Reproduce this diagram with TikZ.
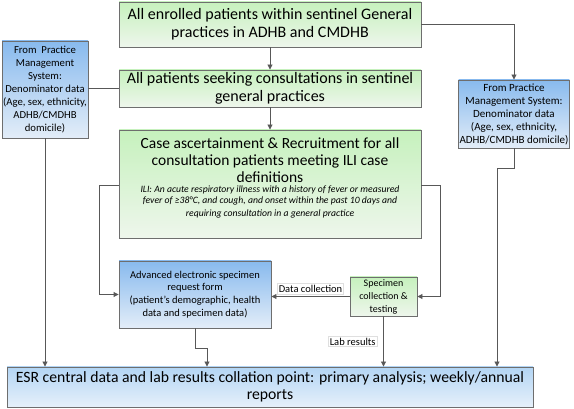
\documentclass[tikz,border=0pt]{standalone}
\usepackage{fontspec}
\setmainfont{Carlito}
\usetikzlibrary{arrows.meta,calc}
\definecolor{gtop}{HTML}{C6F1BD}
\definecolor{gbot}{HTML}{EEF6EC}
\definecolor{btop}{HTML}{88BAEE}
\definecolor{bbot}{HTML}{E3EDF8}
\definecolor{etop}{HTML}{B3D5F4}
\definecolor{ebot}{HTML}{E6F0FA}
\definecolor{edgec}{HTML}{6E6E6E}
\definecolor{lnc}{HTML}{585858}
\tikzset{
  box/.style={draw=edgec, line width=0.9pt, align=center, inner sep=1pt},
  greenbox/.style={box, top color=gtop, bottom color=gbot},
  bluebox/.style={box, top color=btop, bottom color=bbot},
  conn/.style={draw=lnc, line width=0.9pt},
  arr/.style={conn, -{Triangle[length=5pt,width=5pt]}},
  lbl/.style={fill=white, draw=gray!25, inner sep=1.5pt, font=\fontsize{10.5}{12}\selectfont},
  bigf/.style={font=\fontsize{16}{18}\selectfont},
}
\begin{document}
\begin{tikzpicture}[x=1pt,y=-1pt]
\useasboundingbox (0,0) rectangle (574,409);
% boxes
\node[greenbox, bigf, minimum width=302pt, minimum height=45pt] (A) at (270,24.5)
  {All enrolled patients within sentinel General\\practices in ADHB and CMDHB};
\node[greenbox, bigf, minimum width=302pt, minimum height=37pt] (B) at (270,88.5)
  {All patients seeking consultations in sentinel\\general practices};
\node[bluebox, font=\fontsize{10.7}{12.9}\selectfont, minimum width=86pt, minimum height=97pt] (L) at (45,89.5)
  {From\ \ Practice\\Management\\System:\\Denominator data\\(Age, sex, ethnicity,\\ADHB/CMDHB\\domicile)};
\node[bluebox, font=\fontsize{11}{13}\selectfont, minimum width=110pt, minimum height=68pt] (R) at (514,114)
  {From Practice\\Management System:\\Denominator data\\(Age, sex, ethnicity,\\ADHB/CMDHB domicile)};
\node[greenbox, minimum width=302pt, minimum height=108pt] (C) at (270,184) {};
\node[anchor=north, align=center, inner sep=0pt, font=\fontsize{15.5}{17}\selectfont] (Ct) at ($(C.north)+(0,8)$)
  {Case ascertainment \& Recruitment for all\\consultation patients meeting ILI case\\definitions};
\node[anchor=north, align=center, inner sep=0pt, font=\fontsize{9.7}{11}\selectfont\itshape] (Ci) at ($(Ct.south)+(0,3)$)
  {ILI: An acute respiratory illness with a history of fever or measured\\fever of ≥38°C, and cough, and onset within the past 10 days and\\[1.5pt]requiring consultation in a general practice};
\node[bluebox, font=\fontsize{10.5}{12.7}\selectfont, minimum width=152pt, minimum height=67pt] (Adv) at (195,294.5)
  {Advanced electronic specimen\\request form\\(patient’s demographic, health\\data and specimen data)};
\node[greenbox, font=\fontsize{10}{13}\selectfont, minimum width=67pt, minimum height=39pt] (S) at (383.5,296.5)
  {Specimen\\collection \&\\testing};
\node[box, top color=etop, bottom color=ebot, font=\fontsize{15.7}{17.5}\selectfont, minimum width=526pt, minimum height=40pt] (E) at (270,387)
  {ESR central data and lab results collation point: primary analysis; weekly/annual\\reports};
% connectors
\draw[arr] (A.south) -- (B.north);
\draw[arr] (B.south) -- (C.north);
\draw[arr] (A.east) -| (R.north);
\draw[conn] (L.east |- B.west) -- (B.west);
\draw[arr] (L.south) -- (L.south |- E.north);
\coordinate (cl) at ($(C.west)+(0,1)$);
\coordinate (cr) at ($(C.east)+(0,1)$);
\draw[arr] (cl) -- ++(-19,0) |- (Adv.west);
\draw[arr] (cr) -- ++(19,0) |- (S.east);
\draw[arr] (S.west) -- (S.west -| Adv.east) node[lbl, pos=0.5, above=2pt] (dc) {Data collection};
\coordinate (ak) at ($(Adv.south)+(0,20)$);
\draw[arr] (Adv.south) -- (ak) -- ++(12,0) coordinate (ak2) -- (ak2 |- E.north);
\draw[arr] (S.south) -- (S.south |- E.north) node[lbl, pos=0.5, left=6pt] (lr) {Lab results};
\coordinate (rk) at ($(R.south)+(0,20)$);
\draw[arr] (R.south) -- (rk) -- ++(-17,0) coordinate (rk2) -- (rk2 |- E.north);
\end{tikzpicture}
\end{document}
